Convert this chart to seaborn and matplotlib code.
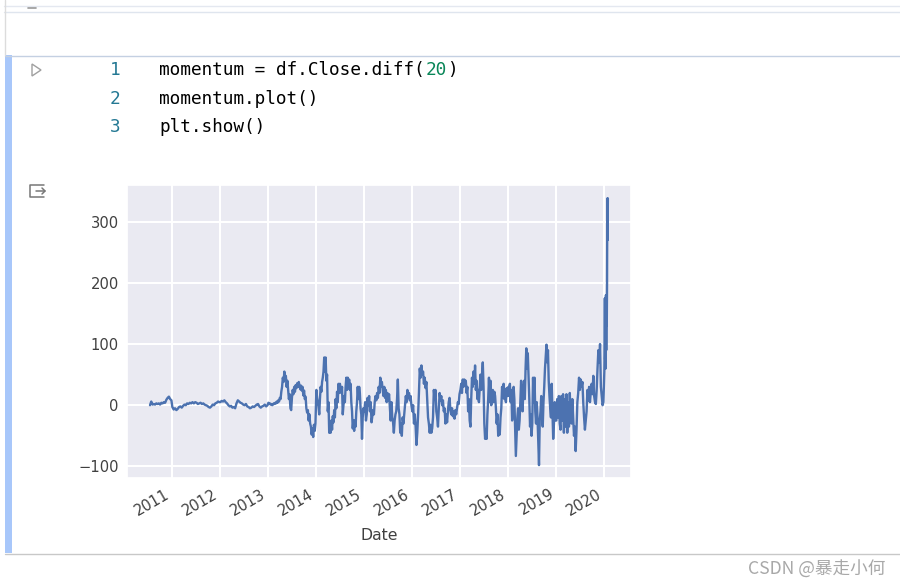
import pandas as pd
import matplotlib
matplotlib.use('Agg')
import matplotlib.pyplot as plt
import matplotlib.dates as mdates
from matplotlib.patches import Rectangle, Polygon
import seaborn as sns

# values, one list per calendar year
y2010 = [0, 6, 1, 2, 1, 3, 2, 3, 1, 4, 3, 5, 4, 9, 12, 14, 10, 8]
y2011 = [-3, -7, -5, -8, -6, -3, -2, -4, -1, 1, 0, 3, 2, 4, 3, 5, 3, 5, 4, 2, 3, 4, 2, 3, 1, 0, -1, -3, -4, -2, 1, 0, 3, 4, 6, 5]
y2012 = [5, 7, 6, 8, 5, 3, 0, -2, -1, -4, -3, -5, 3, 8, 6, 4, 3, 1, 0, 2, -2, -3, -5, -4, -2, -3, -1, 1, 2, -2, -4, -2, -1, 1, -2, 0]
y2013 = [4, 2, 3, 1, 2, 0, 1, 3, 2, 4, 3, 6, 4, 8, 6, 12, 10, 22, 30, 45, 38, 55, 42, 48, 30, 40, 25, 10, 18, -5, -8, 12, 25, 18, 30, 22, 33, 28, 36,
         30, 38, 32, 26, 32, 24, 30, 16, 24, 10, 14, -5, -12, -8, -25, -15, -30, -35, -48, -38, -52, -32, -42, -30]
y2014 = [25, 12, 5, -2, -15, 10, 30, 22, 38, 45, 55, 78, 55, 78, 40, 50, -10, 5, -45, -35, -45, -25, -40, -18, -28, -8, -20, 10, -5,
         22, 5, 35, 20, 35, 28, 20, 30, -15, 0, 15, 5, 30, 45, 25, 45, 30, 42, 25, 35, 5, -10, -38, -25, -42, -25, -35, -10, 5, 30, 10, 30, 20, -5, -15, -55, -20, -5]
y2015 = [-10, 5, -25, -15, 12, 0, 15, -10, 5, -28, -18, -8, -15, 5, 15, 8, 20, 12, 30, 20, 45, 30, 38, 25, 15, 30, 12, 25, 5, 20, 8, 18, -5, -25, 5, -20, -28, -45, -25, -15,
         -10, 10, 42, -5, -15, -45, -30, -50, -20, -30, -15, 0, 15, 5, 25, 12, 20, 8, 15, 0]
y2016 = [-10, 0, -30, -15, -35, -65, -45, -15, 20, 60, 45, 65, 50, 55, 35, 45, 28, 38, 10, -20, -30, -45, -32, -45, -38, -20, 25, 10, 25, -10, -20, -35, -5, 20, 8, 15, 0, 8,
         -10, -5, -30, -15, -28, -10, 5, 12, -8, -15, -5, -18, -10, -22, -8, -15, -5, 5, 2, 18]
y2017 = [25, 35, 20, 42, 30, 42, 35, 40, 20, 30, -10, 10, -25, -35, 10, 45, 30, 55, 35, 65, 25, 40, 10, 25, 5, 28, 50, 25, 50, 70, 30, -30, -55, -40, -55, -15, 10, 45, 5, 40,
         0, 20, 25, 5, 22, 15, -5, -30, -15, -50, -35, -48, -20, -5, 30, 12, 35, 10, 25, 5, 28, 15]
y2018 = [30, 15, 35, 5, 25, -25, -5, 30, 10, -40, -83, -50, -20, -5, -40, -25, 5, 40, 15, -10, 25, 40, 10, 60, 93, 60, 85, 50, 10, -35, -15, -50, -30, 45, 5, 45, -10, -30, 5, -20, -60, -98,
         -25, -10, 15, -20, -35, 5, 30, 60, 80, 99, 70, 90, 40, 15, -5, -20, 35, -10, -55, -30, 5, -25]
y2019 = [-25, 10, -20, 15, -30, -40, 15, -25, 18, -45, 10, -35, 18, -45, 5, -35, 20, -25, -30, 10, -20, -50, -35, -75, -40, 5, 20, 45, 25, 42, 30, 38, 5, -20, -40, -25, -10, 25, 8, 30, 5, 22,
         35, 18, 48, 15, 5, 2, 25, 60, 90, 70, 100, 30, 15, 0, 5]
y2020 = [55, 100, 175, 75, 120, 60, 180, 90, 150, 130, 200, 338, 270, 338]

year_spans = [
    ('2010-07-15', '2010-12-25', y2010), ('2011-01-01', '2011-12-25', y2011),
    ('2012-01-01', '2012-12-25', y2012), ('2013-01-01', '2013-12-25', y2013),
    ('2014-01-01', '2014-12-25', y2014), ('2015-01-01', '2015-12-25', y2015),
    ('2016-01-01', '2016-12-25', y2016), ('2017-01-01', '2017-12-25', y2017),
    ('2018-01-01', '2018-12-25', y2018), ('2019-01-01', '2019-12-25', y2019),
    ('2020-01-01', '2020-01-28', y2020),
]

code_lines = ['momentum = df.Close.diff(20)', 'momentum.plot()', 'plt.show()']
y_ticks = [-100, 0, 100, 200, 300]

frames = []
for start, end, vals in year_spans:
    frames.append(pd.DataFrame({'Date': pd.date_range(start, end, periods=len(vals)), 'Close': vals}))
df = pd.concat(frames, ignore_index=True)

sns.set_theme(style='darkgrid')
fig = plt.figure(figsize=(9, 5.88), dpi=100, facecolor='white')

# notebook chrome, drawn in pixel coordinates
ui = fig.add_axes([0, 0, 1, 1], zorder=0)
ui.set_xlim(0, 900)
ui.set_ylim(588, 0)
ui.axis('off')
ui.grid(False)
ui.plot([4, 900], [6, 6], color='#e4e8f0', lw=1)
ui.plot([4, 900], [12, 12], color='#dfe5ee', lw=1)
ui.plot([4.5, 4.5], [0, 55], color='#dcdcdc', lw=1)
ui.plot([28, 36], [8, 8], color='#999999', lw=1.2)
ui.plot([5, 900], [55.5, 55.5], color='#c4d0e2', lw=1)
ui.plot([5, 900], [553.5, 553.5], color='#c8c8c8', lw=1)
ui.add_patch(Rectangle((5, 55), 7, 498, color='#a8c7fa', lw=0))
ui.add_patch(Polygon([(32, 64), (41, 70), (32, 76)], closed=True, fill=False, ec='#a0a0a0', lw=1))
ui.plot([44, 30, 30, 44], [185, 185, 197, 197], color='#777777', lw=1.1)
ui.plot([36, 45], [191, 191], color='#777777', lw=1.1)
ui.plot([42, 45, 42], [188, 191, 194], color='#777777', lw=1.1)

char_w = 10.68
for i, (line, y) in enumerate(zip(code_lines, [70, 99, 127])):
    ui.text(110, y, str(i + 1), family='DejaVu Sans Mono', fontsize=12.8, color='#237893', va='center')
    if '20' in line:
        pos = line.index('20')
        ui.text(159, y, line[:pos], family='DejaVu Sans Mono', fontsize=12.8, color='black', va='center')
        ui.text(159 + pos * char_w, y, '20', family='DejaVu Sans Mono', fontsize=12.8, color='#098658', va='center')
        ui.text(159 + (pos + 2) * char_w, y, ')', family='DejaVu Sans Mono', fontsize=12.8, color='black', va='center')
    else:
        ui.text(159, y, line, family='DejaVu Sans Mono', fontsize=12.8, color='black', va='center')

ui.text(748, 570, 'CSDN @暴走小何', family=['Noto Sans CJK SC', 'DejaVu Sans'], fontsize=12.7,
        color='#a8a8a8', va='center')

# the chart
ax = fig.add_axes([127 / 900, 1 - 478 / 588, 504 / 900, 293 / 588], zorder=1)
sns.lineplot(data=df, x='Date', y='Close', ax=ax, color='#4C72B0', lw=1.7, errorbar=None)
ax.set_xlim(pd.Timestamp('2010-01-21'), pd.Timestamp('2020-07-22'))
ax.set_ylim(-119, 360)
ax.set_yticks(y_ticks)
ax.xaxis.set_major_locator(mdates.YearLocator())
ax.xaxis.set_major_formatter(mdates.DateFormatter('%Y'))
ax.grid(True, color='white', lw=1.5)
ax.set_ylabel('')
ax.set_xlabel('Date', fontsize=11.3, color='#404040', labelpad=7)
ax.tick_params(axis='y', labelsize=10.6, labelcolor='#404040', length=0, pad=6)
ax.tick_params(axis='x', labelsize=10.6, labelcolor='#404040', length=0, pad=6)
plt.setp(ax.get_xticklabels(), rotation=30, ha='right')

fig.savefig('out.png', dpi=100)
